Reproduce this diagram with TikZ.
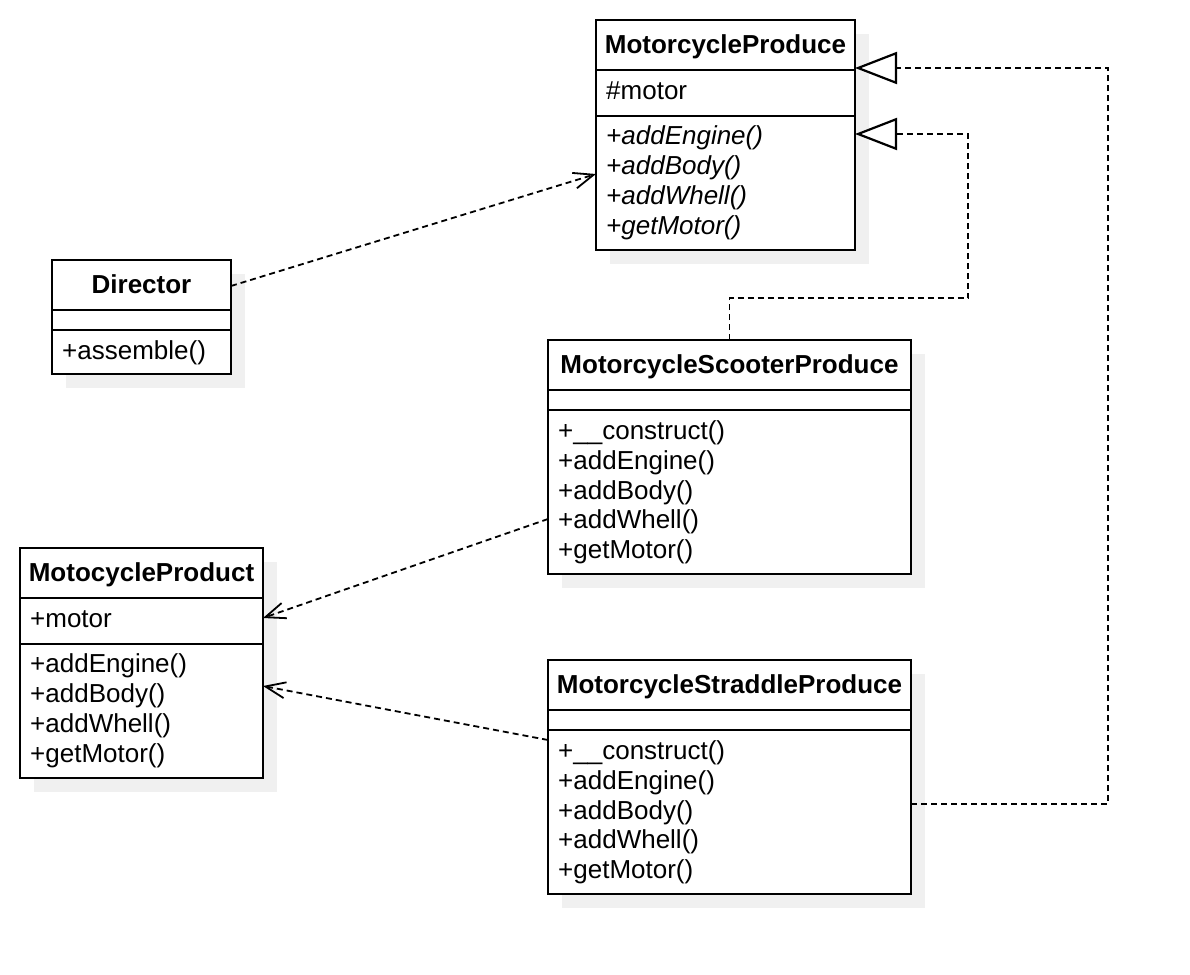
\documentclass[tikz,border=0pt]{standalone}
\usepackage{fontspec}
\setmainfont{Liberation Sans}
\usetikzlibrary{arrows.meta}
\definecolor{shadowgray}{HTML}{F0F0F0}
\begin{document}
\begin{tikzpicture}[x=1pt,y=-1pt,
  font=\fontsize{26}{30}\selectfont,
  classbox/.style={draw, line width=2.2pt, anchor=north west, inner sep=0pt, outer sep=0pt},
  sep/.style={line width=2.2pt},
  shade/.style={fill=shadowgray},
  title/.style={font=\fontsize{26}{30}\selectfont\bfseries, inner sep=0pt, text height=0.75em, text depth=0.22em, yshift=-6pt},
  txt/.style={anchor=west, inner sep=0pt, text height=0.75em, text depth=0.22em, yshift=-6pt},
  dep/.style={line width=1.8pt, dash pattern=on 6pt off 4pt, -{Straight Barb[length=20pt,width=16pt,line width=1.8pt]}},
  real/.style={line width=1.8pt, dash pattern=on 6pt off 4pt, -{Triangle[open,fill=white,length=42pt,width=32pt,line width=2.2pt]}}
]
\useasboundingbox (0,0) rectangle (1190,974);
% shadows
\fill[shade] (66,274) rectangle (245,388);
\fill[shade] (610,34) rectangle (869,264);
\fill[shade] (562,354) rectangle (925,588);
\fill[shade] (34,562) rectangle (277,792);
\fill[shade] (562,674) rectangle (925,908);
% boxes
\node[classbox, fill=white, minimum width=179pt, minimum height=114pt] (dir) at (52,260) {};
\node[classbox, fill=white, minimum width=259pt, minimum height=230pt] (mp) at (596,20) {};
\node[classbox, fill=white, minimum width=363pt, minimum height=234pt] (sc) at (548,340) {};
\node[classbox, fill=white, minimum width=243pt, minimum height=230pt] (pr) at (20,548) {};
\node[classbox, fill=white, minimum width=363pt, minimum height=234pt] (st) at (548,660) {};
% separators
\draw[sep] (52,310) -- (231,310); \draw[sep] (52,330) -- (231,330);
\draw[sep] (596,70) -- (855,70); \draw[sep] (596,116) -- (855,116);
\draw[sep] (548,390) -- (911,390); \draw[sep] (548,410) -- (911,410);
\draw[sep] (20,598) -- (263,598); \draw[sep] (20,644) -- (263,644);
\draw[sep] (548,710) -- (911,710); \draw[sep] (548,730) -- (911,730);
% titles
\node[title] (dirT) at (141.5,285) {Director};
\node[title] (mpT) at (725.5,45) {MotorcycleProduce};
\node[title] (scT) at (729.5,365) {MotorcycleScooterProduce};
\node[title] (prT) at (141.5,573) {MotocycleProduct};
\node[title] (stT) at (729.5,685) {MotorcycleStraddleProduce};
% members
\node[txt] (dirM) at (62,351) {+assemble()};
\node[txt] (mpA) at (606,91) {\#motor};
\foreach \t [count=\i] in {+addEngine(),+addBody(),+addWhell(),+getMotor()}
  \node[txt, font=\fontsize{26}{30}\selectfont\itshape] (mpM\i) at (606,136+30*\i-30) {\t};
\node[txt] (prA) at (30,619) {+motor};
\foreach \t [count=\i] in {+addEngine(),+addBody(),+addWhell(),+getMotor()}
  \node[txt] (prM\i) at (30,664+30*\i-30) {\t};
\foreach \t [count=\i] in {+\_\_construct(),+addEngine(),+addBody(),+addWhell(),+getMotor()}
  \node[txt] (scM\i) at (558,431+29.7*\i-29.7) {\t};
\foreach \t [count=\i] in {+\_\_construct(),+addEngine(),+addBody(),+addWhell(),+getMotor()}
  \node[txt] (stM\i) at (558,751+29.7*\i-29.7) {\t};
% connectors
\draw[dep] ([yshift=-26pt]dir.north east) -- ([yshift=-154pt]mp.north west);
\draw[dep] ([yshift=-179pt]sc.north west) -- ([yshift=-70pt]pr.north east);
\draw[dep] ([yshift=-80pt]st.north west) -- ([yshift=-138pt]pr.north east);
\draw[real] (sc.north) |- (968,298) |- ([yshift=-114pt]mp.north east);
\draw[real] ([yshift=-144pt]st.north east) -| (1108,68) -- ([yshift=-48pt]mp.north east);
\end{tikzpicture}
\end{document}
